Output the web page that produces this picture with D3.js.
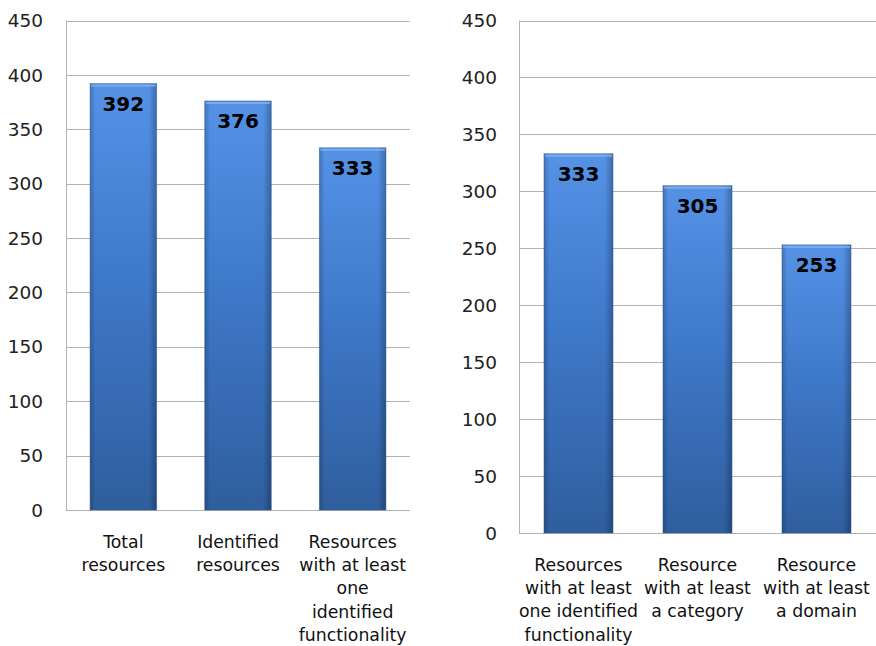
<!DOCTYPE html>
<html>
<head>
<meta charset="utf-8">
<script src="https://cdn.jsdelivr.net/npm/d3@7"></script>
<style>
  body { margin: 0; background: #fff; }
  text { font-family: "DejaVu Sans", Verdana, sans-serif; fill: #111; }
</style>
</head>
<body>
<div id="chart"></div>
<script>
// values
var leftCategories = ["Total\nresources", "Identified\nresources", "Resources\nwith at least\none\nidentified\nfunctionality"];
var leftValues = [392, 376, 333];
var rightCategories = ["Resources\nwith at least\none identified\nfunctionality", "Resource\nwith at least\na category", "Resource\nwith at least\na domain"];
var rightValues = [333, 305, 253];
var yTicks = [0, 50, 100, 150, 200, 250, 300, 350, 400, 450];

var svg = d3.select("#chart")
    .append("svg")
    .attr("width", 876)
    .attr("height", 646);

var defs = svg.append("defs");

var vgrad = defs.append("linearGradient")
    .attr("id", "barV")
    .attr("x1", 0).attr("y1", 0).attr("x2", 0).attr("y2", 1);
vgrad.append("stop").attr("offset", "0%").attr("stop-color", "#5592e6");
vgrad.append("stop").attr("offset", "45%").attr("stop-color", "#3f79ca");
vgrad.append("stop").attr("offset", "100%").attr("stop-color", "#2f5e9e");

var hgrad = defs.append("linearGradient")
    .attr("id", "barH")
    .attr("x1", 0).attr("y1", 0).attr("x2", 1).attr("y2", 0);
hgrad.append("stop").attr("offset", "0%").attr("stop-color", "#000").attr("stop-opacity", 0.2);
hgrad.append("stop").attr("offset", "8%").attr("stop-color", "#000").attr("stop-opacity", 0.0);
hgrad.append("stop").attr("offset", "88%").attr("stop-color", "#000").attr("stop-opacity", 0.0);
hgrad.append("stop").attr("offset", "100%").attr("stop-color", "#000").attr("stop-opacity", 0.26);

function drawChart(cats, vals, left, right, top, bottom, tickX) {
    var x = d3.scaleBand()
        .domain(cats)
        .range([left, right])
        .paddingInner(0.42)
        .paddingOuter(0.21);

    var y = d3.scaleLinear()
        .domain([0, 450])
        .range([bottom, top]);

    var g = svg.append("g");

    // gridlines
    g.selectAll("line.grid")
        .data(yTicks)
        .enter()
        .append("line")
        .attr("x1", left)
        .attr("x2", right)
        .attr("y1", function(d) { return Math.round(y(d)) + 0.5; })
        .attr("y2", function(d) { return Math.round(y(d)) + 0.5; })
        .attr("stroke", "#b3b3b3")
        .attr("stroke-width", 1);

    // left border of plot area
    g.append("line")
        .attr("x1", left + 0.5).attr("x2", left + 0.5)
        .attr("y1", y(450)).attr("y2", y(0))
        .attr("stroke", "#b3b3b3");

    // tick labels
    g.selectAll("text.tick")
        .data(yTicks)
        .enter()
        .append("text")
        .attr("x", tickX)
        .attr("y", function(d) { return y(d); })
        .attr("dy", "0.36em")
        .attr("text-anchor", "end")
        .attr("font-size", 18.5)
        .style("fill", "#222")
        .text(function(d) { return d; });

    var bars = g.selectAll("g.bar")
        .data(vals)
        .enter()
        .append("g");

    bars.append("rect")
        .attr("x", function(d, i) { return x(cats[i]); })
        .attr("y", function(d) { return y(d); })
        .attr("width", x.bandwidth())
        .attr("height", function(d) { return y(0) - y(d); })
        .attr("fill", "url(#barV)");

    bars.append("rect")
        .attr("x", function(d, i) { return x(cats[i]); })
        .attr("y", function(d) { return y(d); })
        .attr("width", x.bandwidth())
        .attr("height", function(d) { return y(0) - y(d); })
        .attr("fill", "url(#barH)")
        .attr("stroke", "#2d5a96")
        .attr("stroke-opacity", 0.5)
        .attr("stroke-width", 1);

    // top bevel highlight
    bars.append("rect")
        .attr("x", function(d, i) { return x(cats[i]) + 1; })
        .attr("y", function(d) { return y(d) + 1; })
        .attr("width", x.bandwidth() - 2)
        .attr("height", 2)
        .attr("fill", "#8fb8f0")
        .attr("opacity", 0.7);

    bars.append("text")
        .attr("x", function(d, i) { return x(cats[i]) + x.bandwidth() / 2; })
        .attr("y", function(d) { return y(d) + 27; })
        .attr("text-anchor", "middle")
        .attr("font-size", 20)
        .attr("font-weight", "bold")
        .style("fill", "#000")
        .text(function(d) { return d; });

    // category labels, several lines each
    var labels = g.selectAll("text.cat")
        .data(cats)
        .enter()
        .append("text")
        .attr("text-anchor", "middle")
        .attr("font-size", 17.3)
        .style("fill", "#111");

    labels.selectAll("tspan")
        .data(function(d) { return d.split("\n").map(function(s) { return {s: s, c: d}; }); })
        .enter()
        .append("tspan")
        .attr("x", function(d) { return x(d.c) + x.bandwidth() / 2; })
        .attr("y", function(d, i) { return y(0) + 38 + i * 23.2; })
        .text(function(d) { return d.s; });
}

drawChart(leftCategories, leftValues, 66, 410, 20.5, 510, 43);
drawChart(rightCategories, rightValues, 519, 876, 20.5, 533, 497);
</script>
</body>
</html>
